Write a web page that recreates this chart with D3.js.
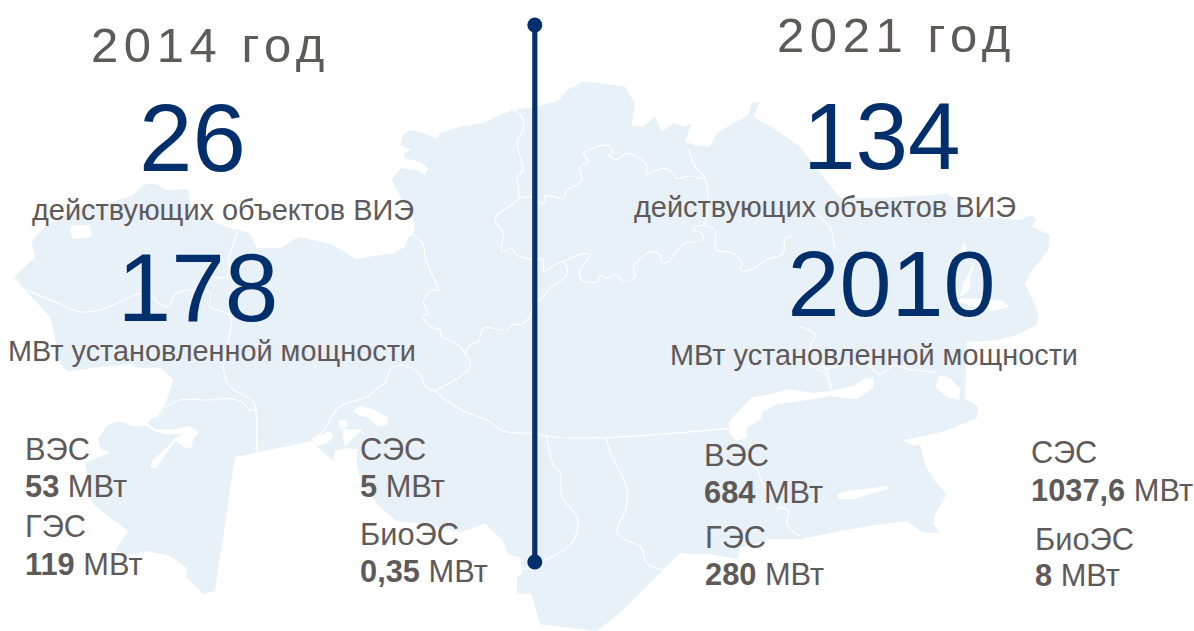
<!DOCTYPE html>
<html><head><meta charset="utf-8">
<script src="https://cdn.jsdelivr.net/npm/d3@7"></script>
<style>html,body{margin:0;padding:0;background:#fff}svg{display:block}text{font-family:"Liberation Sans",Arial,sans-serif}</style>
</head><body><div id="c"></div>
<script>
// ---- values
const years = ["2014 год", "2021 год"];
const objectCounts = [26, 134];
const capacities = [178, 2010];
const objectsCaption = "действующих объектов ВИЭ";
const capacityCaption = "МВт установленной мощности";
const sourceNames = ["ВЭС", "ГЭС", "СЭС", "БиоЭС"];
const sources2014 = ["53", "119", "5", "0,35"];
const sources2021 = ["684", "280", "1037,6", "8"];
const unit = "МВт";

// ---- map geometry, traced on survey sheets; each sheet has its own origin and units per pixel
const W = 1194, H = 631;
const sheet = (x0,y0,kx=3,ky=3) => {
  const sx = d3.scaleLinear().domain([0,kx]).range([x0,x0+1]);
  const sy = d3.scaleLinear().domain([0,ky]).range([y0,y0+1]);
  return p => [sx(p[0]), sy(p[1])];
};
const nw = sheet(0,170), sw = sheet(40,351), aral = sheet(280,351), south = sheet(680,351), east = sheet(800,170), mid = sheet(380,70), lower = sheet(500,60,2.26,2.746);

const coastNW = [[42,322],[105,262],[95,215],[130,175],[200,130],[270,105],[330,100],[400,75],[430,45],[460,40],[500,60],[564,57],[574,129],[631,150],[689,175],[718,180],[750,190],[770,235],[840,235],[894,200],[999,225],[1068,267]];
const coastN = [[0,555],[40,550],[75,530],[85,500],[100,495],[105,460],[85,420],[55,370],[35,330],[60,295],[105,300],[135,315],[145,295],[120,275],[75,265],[70,250],[95,240],[60,225],[70,195],[90,180],[130,190],[170,205],[180,190],[240,170],[310,160],[360,135],[400,120],[470,110],[540,90],[560,60],[610,35],[660,40],[700,45],[735,50],[765,100],[755,165],[790,170],[825,140],[845,185],[880,160],[910,170],[935,160],[915,215],[945,225],[990,230],[1010,190],[1060,160],[1105,135],[1115,100],[1140,95],[1120,140],[1180,175],[1260,230]];
const coastE = [[55,0],[100,60],[123,84],[240,84],[405,75],[440,70],[530,140],[660,150],[695,135],[710,150],[695,170],[750,195],[745,240],[690,310],[675,340],[715,430],[710,465],[650,495],[595,510],[500,515],[495,685],[535,710],[530,745],[430,785],[310,810]];
const coastS = [[669,267],[700,285],[720,280],[735,340],[760,385],[800,430],[765,490],[760,520],[780,545],[730,545],[680,510],[600,520],[480,540],[360,565],[270,565],[180,590],[175,625],[90,610],[30,610],[0,605],[-45,650],[-180,785],[-250,840]];
const coastTip = [[780,820],[755,730],[710,725],[712,675],[728,670],[720,620],[685,610],[665,565],[615,518],[540,545],[440,520],[350,510],[290,460],[240,380],[230,340],[232,295],[195,292],[165,300],[160,332],[112,288],[95,270],[0,290]];
const coastSW = [[585,318],[525,720],[490,728],[440,680],[440,650],[390,615],[320,600],[270,612],[225,600],[265,540],[225,510],[160,460],[155,445],[135,335],[210,305],[180,290],[175,265],[200,225],[235,210],[280,225],[320,225],[330,205],[355,195],[380,150],[400,85],[360,50],[290,50],[280,40]];
const coastW = [[300,590],[205,605],[180,580],[160,480],[150,440],[85,370]];

const lakesNW = [[[215,165],[270,165],[275,200],[220,208],[210,185]]];
const lakesSW = [[[320,215],[345,235],[410,235],[445,225],[480,245],[460,260],[455,290],[435,290],[405,270],[385,300],[350,350],[332,352],[335,330],[380,290],[405,262],[430,250],[380,250],[340,240],[320,225]]];
const lakesAral = [
  [[175,210],[195,205],[205,225],[190,235],[178,228]],
  [[220,180],[240,165],[280,175],[325,200],[320,225],[290,225],[265,200],[240,195]],
  [[190,235],[250,235],[215,265],[195,290],[190,265]],
  [[95,265],[150,240],[160,260],[135,280],[110,285]]
];
const lakesSouth = [
  [[145,215],[170,185],[215,140],[290,125],[320,115],[400,125],[450,120],[520,105],[550,85],[580,80],[580,110],[530,145],[450,135],[400,145],[290,160],[245,185],[245,205],[200,230],[200,260],[170,270],[150,250]],
  [[470,430],[500,420],[625,405],[625,415],[570,430],[520,445],[475,445]]
];
const lakesEast = [
  [[405,650],[420,615],[450,625],[480,655],[478,690],[440,680]],
  [[480,240],[495,215],[500,240],[490,260]],
  [[490,340],[515,290],[525,280],[510,320],[510,360],[480,380]],
  [[480,385],[600,390],[630,410],[570,425],[475,395]]
];

const bordersNW = [
  [[85,362],[175,400],[240,425],[300,420],[360,395],[420,370],[455,378],[470,395],[505,410],[530,370],[630,368],[630,410],[680,430],[695,450],[690,490],[670,590],[690,650],[760,695],[770,740],[770,840]],
  [[490,715],[540,690],[630,690],[680,685],[725,695],[750,720],[765,720]],
  [[630,320],[680,320],[690,250],[715,185]]
];
const bordersSW = [[[640,150],[650,200],[650,305]]];
const bordersAral = [[[95,265],[130,240],[175,170],[265,135],[290,112],[315,95],[335,50],[380,45],[420,70],[435,105],[465,120]]];
const bordersMid = [
  [[100,495],[130,525],[135,560],[150,600],[175,660],[155,660],[130,695],[145,730],[130,740],[150,770],[180,780],[185,800],[235,825],[270,890],[165,962]],
  [[255,860],[268,825],[295,815],[310,775],[380,780],[395,765],[430,760],[455,730],[465,700],[480,690],[510,655],[560,615],[560,590],[550,575],[500,600],[490,605]],
  [[550,575],[600,553],[630,555],[600,600],[605,630],[650,635],[660,615],[680,625],[710,615],[730,635],[765,620],[760,590],[815,545],[840,555],[845,575],[865,575],[885,550],[915,520],[970,510],[965,490],[940,480],[945,470],[970,465],[985,395],[975,325]],
  [[400,120],[425,140],[430,180],[412,210],[420,260],[430,300],[412,320],[415,385],[345,445],[370,490],[365,545],[395,535],[410,555],[440,565],[460,570],[485,565],[490,605]],
  [[415,385],[455,380],[470,395],[495,400],[495,378],[520,380],[550,385],[560,360],[580,350],[605,330],[600,290],[625,275],[610,250],[640,235],[650,230],[690,228],[695,250],[685,255],[710,268],[740,250],[770,260],[800,285],[800,310],[850,295],[880,310],[890,325],[930,318],[975,325],[945,290],[925,235]],
  [[162,962],[245,1020],[320,1050],[375,1085],[460,1090],[505,1100],[670,1103],[1050,1075]],
  [[970,465],[1005,480],[1005,520],[1010,540],[1060,550],[1085,580],[1080,600],[1110,600],[1160,570],[1210,550],[1215,505],[1240,500]]
];
const bordersEast = [[[45,130],[95,180],[100,215],[105,240]],[[0,470],[45,495],[30,530],[40,590],[75,610],[90,655]]];
const bordersSouth = [
  [[385,50],[435,50],[455,115]],
  [[430,55],[560,40],[600,70],[640,45],[690,55],[770,65]],
  [[200,330],[235,360],[245,395],[300,460],[285,485],[300,470],[325,480],[320,520],[360,555]]
];
const bordersLower = [
  [[105,1030],[120,1110],[135,1130],[140,1200],[175,1260],[160,1330],[50,1400]],
  [[240,1035],[250,1080],[285,1170],[285,1230],[265,1300],[320,1340],[330,1380],[370,1400]]
];

// ---- drawing helpers
const blue = "#002f6c", gray = "#5f5a5a", land = "#e8f0f8";
const svg = d3.select("#c").append("svg").attr("width",W).attr("height",H).attr("viewBox",[0,0,W,H]);
const line = d3.line();

// ---- map
const outline = [...coastNW.map(nw),...coastN.map(mid),...coastE.map(east),...coastS.map(south),...coastTip.map(aral),...coastSW.map(sw),...coastW.map(nw)];
svg.append("path").attr("d",line(outline)+"Z").attr("fill",land);
const lakes = [...lakesNW.map(l=>l.map(nw)),...lakesSW.map(l=>l.map(sw)),...lakesAral.map(l=>l.map(aral)),...lakesSouth.map(l=>l.map(south)),...lakesEast.map(l=>l.map(east))];
svg.append("g").selectAll("path").data(lakes).join("path").attr("d",d=>line(d)+"Z").attr("fill","#fff");
const borders = [...bordersNW.map(l=>l.map(nw)),...bordersSW.map(l=>l.map(sw)),...bordersAral.map(l=>l.map(aral)),...bordersMid.map(l=>l.map(mid)),...bordersEast.map(l=>l.map(east)),...bordersSouth.map(l=>l.map(south)),...bordersLower.map(l=>l.map(lower))];
svg.append("g").selectAll("path").data(borders).join("path")
  .attr("d",d3.line().curve(d3.curveCatmullRom.alpha(0.5))).attr("fill","none").attr("stroke","#fff").attr("stroke-width",1.2);

// ---- divider
const div = svg.append("g");
div.append("line").attr("x1",534.8).attr("x2",534.8).attr("y1",25).attr("y2",562).attr("stroke","#07306f").attr("stroke-width",5.2);
div.selectAll("circle").data([25,562]).join("circle").attr("cx",534.8).attr("cy",d=>d).attr("r",7.5).attr("fill",blue);

// ---- text
function put(x,y,txt,size,fill,opts={}){
  const t = svg.append("text").attr("x",x).attr("y",y).attr("font-size",size).attr("fill",fill).text(txt);
  if(opts.len) t.attr("textLength",opts.len).attr("lengthAdjust","spacingAndGlyphs");
  return t;
}
function spaced(x,y,txt,size,ls){ put(x,y,txt,size,gray).attr("letter-spacing",ls); }
spaced(91,62,years[0],49,5.6);
spaced(777,52,years[1],49,5.6);
put(139,171,objectCounts[0],96,blue);
put(117.5,321,capacities[0],96.5,blue);
put(803,168.5,objectCounts[1],94.5,blue);
put(787.5,316,capacities[1],93.5,blue);
put(32,220,objectsCaption,29,gray,{len:382});
put(634,217,objectsCaption,29,gray,{len:382});
put(8,361,capacityCaption,29,gray,{len:408});
put(670,365,capacityCaption,29,gray,{len:408});

function source(x,yName,yVal,name,val){
  put(x,yName,name,30.8,gray);
  const t = svg.append("text").attr("x",x).attr("y",yVal).attr("font-size",30.8).attr("fill",gray);
  t.append("tspan").attr("font-weight","bold").text(val);
  t.append("tspan").text(" "+unit);
}
source(25,460,497,sourceNames[0],sources2014[0]);
source(25,537,575,sourceNames[1],sources2014[1]);
source(360,460,497,sourceNames[2],sources2014[2]);
source(360,545,582,sourceNames[3],sources2014[3]);
source(704,466,503,sourceNames[0],sources2021[0]);
source(705,548,585,sourceNames[1],sources2021[1]);
source(1031,463,501,sourceNames[2],sources2021[2]);
source(1035,550,586,sourceNames[3],sources2021[3]);
</script></body></html>
